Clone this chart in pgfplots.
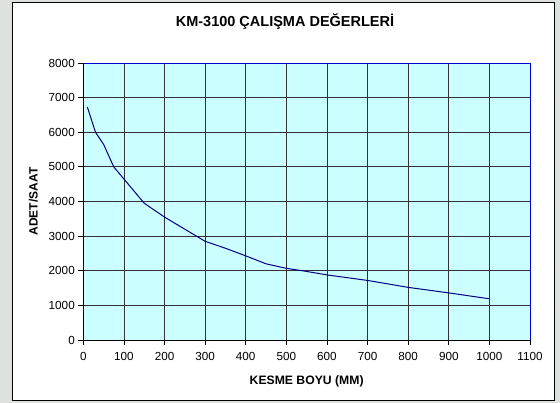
\documentclass[border=0pt]{standalone}
\usepackage{fontspec}
\setmainfont{Liberation Sans}
\usepackage{pgfplots}
\pgfplotsset{compat=1.18}
\definecolor{plotbg}{HTML}{CCFFFF}
\definecolor{navyline}{HTML}{000080}
\definecolor{outerbg}{RGB}{222,226,222}
\definecolor{rightblue}{HTML}{0000CC}
\begin{document}
\begin{tikzpicture}
\useasboundingbox (0pt,0pt) rectangle (560pt,403pt);
\fill[outerbg] (0pt,0pt) rectangle (560pt,403pt);
\fill[white,draw=black,line width=1pt] (12.5pt,2.5pt) rectangle (554.5pt,400.5pt);
\node[font=\bfseries\fontsize{14.5}{16}\selectfont] at (285pt,381pt) {KM-3100 ÇALIŞMA DEĞERLERİ};
\begin{axis}[
  at={(83.3pt,63pt)}, anchor=south west, scale only axis,
  width=446.7pt, height=277pt,
  xmin=0, xmax=1100, ymin=0, ymax=8000,
  xtick={0,100,...,1100}, ytick={0,1000,...,8000},
  axis background/.style={fill=plotbg},
  grid=major, major grid style={black!80, line width=0.8pt},
  axis line style={black, line width=0.8pt},
  tick pos=left, tick align=outside, major tick length=5pt,
  tick style={black, line width=0.8pt},
  ticklabel style={font=\fontsize{11.7}{13}\selectfont},
  xticklabel style={yshift=-4pt},
  /pgf/number format/assume math mode=true,
  /pgf/number format/set thousands separator={},
  every axis x label/.style={at={(axis description cs:0.5,0)}, yshift=-41pt, anchor=center, font=\bfseries\fontsize{12.2}{14}\selectfont},
  every axis y label/.style={at={(axis description cs:0,0.5)}, xshift=-50pt, rotate=90, anchor=center, font=\bfseries\fontsize{12}{14}\selectfont},
  xlabel={KESME BOYU (MM)}, ylabel={ADET/SAAT},
  clip=false,
]
\addplot[navyline, line width=1pt, mark=none] coordinates {
 (10,6730) (30,6000) (50,5650) (75,5000) (100,4650) (150,3950) (200,3550)
 (250,3200) (300,2850) (350,2650) (400,2430) (450,2200) (500,2070)
 (550,1980) (600,1880) (700,1720) (800,1520) (900,1360) (1000,1190)
};
\draw[rightblue, line width=1pt] (rel axis cs:0,1) -- (rel axis cs:1,1) -- (rel axis cs:1,0);
\end{axis}
\end{tikzpicture}
\end{document}
